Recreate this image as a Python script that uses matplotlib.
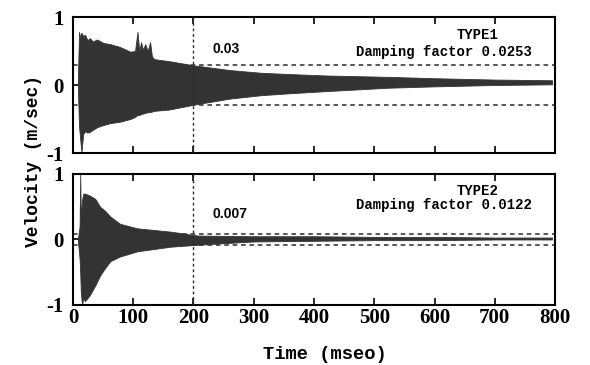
import matplotlib
matplotlib.use('Agg')
import matplotlib.pyplot as plt
import numpy as np

t1 = [8, 10, 12, 14, 17, 20, 24, 28, 33, 40, 50, 62, 78, 95, 103, 107, 110,
      113, 116, 120, 124, 128, 131, 135, 160, 200, 260, 312, 362, 420, 523,
      600, 700, 795]
upper1 = [0.0, 0.78, 0.70, 0.77, 0.72, 0.74, 0.66, 0.69, 0.64, 0.67, 0.62,
          0.60, 0.56, 0.49, 0.50, 0.78, 0.50, 0.63, 0.52, 0.60, 0.50, 0.63,
          0.42, 0.38, 0.35, 0.29, 0.22, 0.18, 0.16, 0.14, 0.12, 0.10, 0.08,
          0.07]
lower1 = [0.0, -0.60, -0.80, -0.99, -0.72, -0.68, -0.70, -0.69, -0.66, -0.62,
          -0.59, -0.56, -0.54, -0.50, -0.47, -0.44, -0.44, -0.43, -0.42,
          -0.41, -0.40, -0.40, -0.39, -0.38, -0.36, -0.29, -0.20, -0.15,
          -0.12, -0.09, -0.04, -0.02, 0.0, 0.01]

t2 = [8, 11, 12, 13, 15, 17, 20, 28, 37, 45, 53, 62, 78, 107, 162, 207, 300,
      400, 500, 600, 700, 795]
upper2 = [0.0, 0.2, 1.0, 0.3, 0.6, 0.70, 0.70, 0.67, 0.62, 0.50, 0.44, 0.35,
          0.24, 0.17, 0.12, 0.06, 0.05, 0.05, 0.04, 0.04, 0.03, 0.03]
lower2 = [0.0, -0.3, -0.5, -0.8, -1.0, -0.9, -0.94, -0.85, -0.70, -0.55,
          -0.44, -0.33, -0.26, -0.18, -0.11, -0.08, -0.03, -0.02, -0.01,
          -0.01, 0.0, 0.0]

ref_time = 200
ref_level1 = [0.30, -0.30]
ref_level2 = [0.08, -0.08]
ref_label1 = '0.03'
ref_label2 = '0.007'
types = ['TYPE1', 'TYPE2']
damping = ['0.0253', '0.0122']
xticks = [0, 100, 200, 300, 400, 500, 600, 700, 800]

plt.rcParams['axes.unicode_minus'] = False
mono = 'Liberation Mono'
serif = 'Liberation Serif'
ink = '#2b2b2b'

fig = plt.figure(figsize=(5.9, 3.65), dpi=100)
ax1 = fig.add_axes([0.1237, 0.5808, 0.817, 0.3726])
ax2 = fig.add_axes([0.1237, 0.1644, 0.817, 0.3589])

panels = [(ax1, t1, upper1, lower1, ref_level1, ref_label1, 0.53, 0.49),
          (ax2, t2, upper2, lower2, ref_level2, ref_label2, 0.39, 0.52)]

for i, (ax, t, up, lo, lev, lab, ly, dy) in enumerate(panels):
    for y in lev:
        ax.axhline(y, color=ink, lw=1.1, ls=(0, (3, 2.5)), zorder=1)
    ax.fill_between(t, lo, up, color='#333333', lw=0.6, edgecolor='#333333',
                    zorder=2)
    ax.axvline(ref_time, color=ink, lw=1.0, ls=(0, (2, 2)), zorder=3)
    ax.set_xlim(0, 800)
    ax.set_ylim(-1, 1)
    ax.set_xticks(xticks)
    ax.set_yticks([-1, 0, 1])
    ax.tick_params(direction='in', top=True, length=5, width=1.2,
                   labelsize=15, pad=2)
    ax.tick_params(axis='y', pad=7)
    for lbl in ax.get_xticklabels() + ax.get_yticklabels():
        lbl.set_fontfamily(serif)
        lbl.set_fontweight('bold')
    for s in ax.spines.values():
        s.set_linewidth(1.5)
    ax.text(ref_time + 32, ly, lab, fontsize=10, fontweight='bold',
            family='Liberation Sans', va='center', ha='left')
    ax.text(672, 0.74, types[i], fontsize=10, fontweight='bold', family=mono,
            ha='center', va='center')
    ax.text(762, dy, 'Damping factor ' + damping[i],
            fontsize=10, fontweight='bold', family=mono,
            ha='right', va='center')

ax1.tick_params(labelbottom=False)

fig.text(0.551, 0.03, 'Time (mseo)', family=mono, fontweight='bold',
         fontsize=13.5, ha='center', va='center')
fig.text(0.056, 0.56, 'Velocity (m/sec)', family=mono, fontweight='bold',
         fontsize=13, ha='center', va='center', rotation=90)

fig.savefig('out.png', dpi=100)
